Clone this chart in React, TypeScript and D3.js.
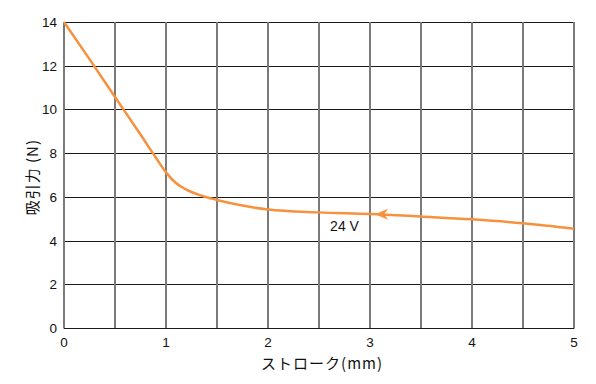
import { useEffect, useRef } from 'react';
import * as d3 from 'd3';

// Stroke (mm) vs attractive force (N) at 24 V
const stroke = [0, 0.25, 0.5, 0.75, 0.9, 1.0, 1.1, 1.2, 1.35, 1.5, 1.75, 2, 2.5, 3, 3.5, 4, 4.5, 5];
const force = [14, 12.3, 10.57, 8.85, 7.8, 7.12, 6.62, 6.33, 6.05, 5.86, 5.6, 5.42, 5.29, 5.22, 5.1, 4.97, 4.79, 4.54];

const xTicks = [0, 1, 2, 3, 4, 5];
const xGrid = [0, 0.5, 1, 1.5, 2, 2.5, 3, 3.5, 4, 4.5, 5];
const yTicks = [0, 2, 4, 6, 8, 10, 12, 14];

const seriesLabel = '24 V';
const arrowAt = 3.05;

export default function App() {
    const ref = useRef<SVGSVGElement>(null);

    useEffect(() => {
        if (!ref.current) return;
        document.body.style.margin = '0';

        const svg = d3.select(ref.current);
        svg.selectAll('*').remove();

        const width = 596;
        const height = 384;
        const margin = { top: 22, right: 22, bottom: 56, left: 64 };
        const innerWidth = width - margin.left - margin.right;
        const innerHeight = height - margin.top - margin.bottom;
        const numFont = '"Liberation Sans", Arial, sans-serif';
        const jpFont = '"Noto Sans CJK JP", sans-serif';
        const orange = '#f7913d';

        const g = svg.append('g').attr('transform', `translate(${margin.left},${margin.top})`);

        const x = d3.scaleLinear().domain([0, 5]).range([0, innerWidth]);
        const y = d3.scaleLinear().domain([0, 14]).range([innerHeight, 0]);

        // Horizontal grid (dark, thin)
        g.selectAll('.hgrid')
            .data(yTicks)
            .enter()
            .append('line')
            .attr('x1', 0)
            .attr('x2', innerWidth)
            .attr('y1', d => Math.round(y(d)) + 0.5)
            .attr('y2', d => Math.round(y(d)) + 0.5)
            .attr('stroke', '#1a1a1a')
            .attr('stroke-width', 1);

        // Vertical grid (gray, thicker)
        g.selectAll('.vgrid')
            .data(xGrid)
            .enter()
            .append('line')
            .attr('x1', d => x(d))
            .attr('x2', d => x(d))
            .attr('y1', 0)
            .attr('y2', innerHeight + 0.5)
            .attr('stroke', '#7a7a7a')
            .attr('stroke-width', 2);

        // Bottom axis line
        g.append('line')
            .attr('x1', 0)
            .attr('x2', innerWidth)
            .attr('y1', innerHeight + 0.5)
            .attr('y2', innerHeight + 0.5)
            .attr('stroke', '#1a1a1a');

        // Tick labels
        g.selectAll('.ylab')
            .data(yTicks)
            .enter()
            .append('text')
            .attr('x', -7)
            .attr('y', d => y(d) + 5)
            .attr('text-anchor', 'end')
            .attr('font-family', numFont)
            .attr('font-size', 13.5)
            .attr('fill', '#111')
            .text(d => d);

        g.selectAll('.xlab')
            .data(xTicks)
            .enter()
            .append('text')
            .attr('x', d => x(d))
            .attr('y', innerHeight + 19)
            .attr('text-anchor', 'middle')
            .attr('font-family', numFont)
            .attr('font-size', 13.5)
            .attr('fill', '#111')
            .text(d => d);

        // Curve
        const pts = stroke.map((s, i) => [s, force[i]] as [number, number]);
        const line = d3.line<[number, number]>()
            .x(d => x(d[0]))
            .y(d => y(d[1]))
            .curve(d3.curveMonotoneX);

        g.append('path')
            .attr('d', line(pts))
            .attr('fill', 'none')
            .attr('stroke', orange)
            .attr('stroke-width', 2.5);

        // Arrowhead pointing left (direction of travel)
        const i = d3.bisectLeft(stroke, arrowAt);
        const t = (arrowAt - stroke[i - 1]) / (stroke[i] - stroke[i - 1]);
        const fy = force[i - 1] + t * (force[i] - force[i - 1]);
        const ax = x(arrowAt);
        const ay = y(fy);
        g.append('path')
            .attr('d', `M${ax},${ay} L${ax + 13},${ay - 5.5} L${ax + 9},${ay} L${ax + 13},${ay + 5.5} Z`)
            .attr('fill', orange);

        g.append('text')
            .attr('x', x(2.75))
            .attr('y', y(4.45))
            .attr('text-anchor', 'middle')
            .attr('font-family', numFont)
            .attr('font-size', 14)
            .attr('fill', '#111')
            .text(seriesLabel);

        // Axis titles
        svg.append('text')
            .attr('x', margin.left + x(2.53))
            .attr('y', 369)
            .attr('text-anchor', 'middle')
            .attr('font-family', jpFont)
            .attr('font-size', 15)
            .attr('letter-spacing', 1)
            .attr('fill', '#111')
            .text('ストローク(mm)');

        svg.append('text')
            .attr('transform', `translate(38,${margin.top + y(6.9)}) rotate(-90)`)
            .attr('text-anchor', 'middle')
            .attr('font-family', jpFont)
            .attr('font-size', 15)
            .attr('letter-spacing', 1)
            .attr('fill', '#111')
            .text('吸引力 (N)');
    }, []);

    return <svg ref={ref} width={596} height={384} style={{ display: 'block', background: '#fff' }}></svg>;
}
